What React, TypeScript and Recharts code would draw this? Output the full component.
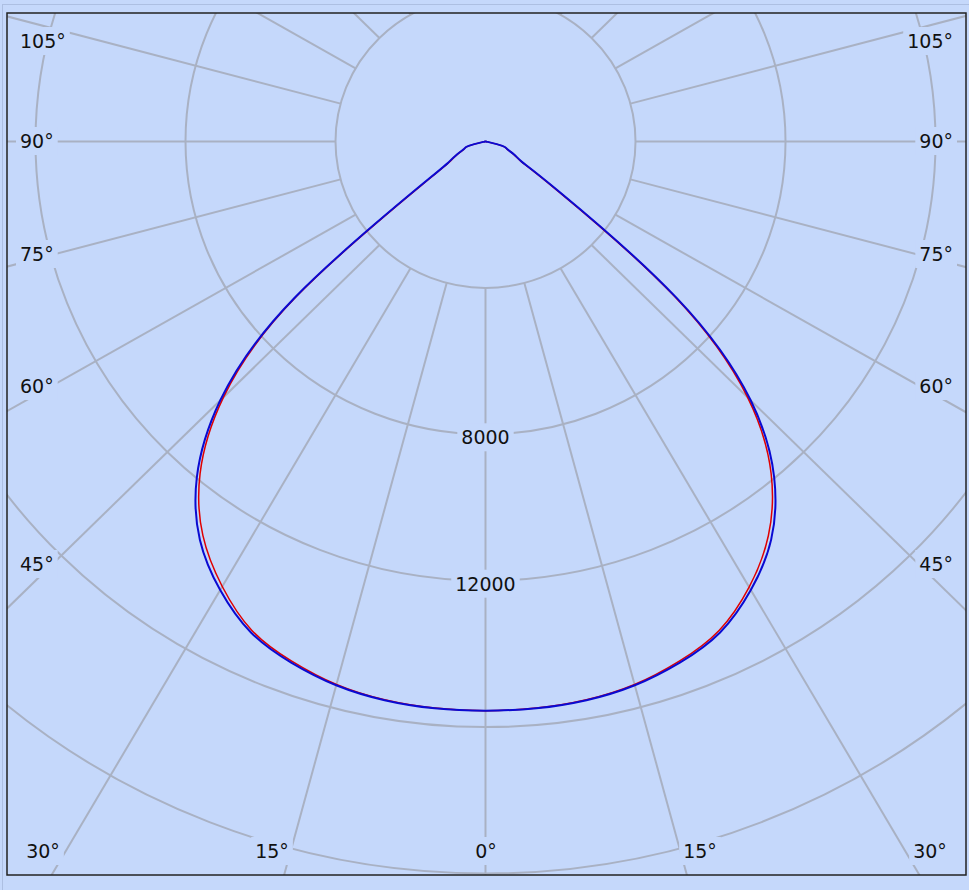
import React from 'react';
import { ScatterChart, Scatter, XAxis, YAxis, ReferenceLine } from 'recharts';

// gamma angle in degrees, 0 = straight down, 90 = horizontal
const gammaAngles = [0, 5, 10, 15, 20, 25, 30, 35, 40, 45, 50, 55, 60, 65, 70, 75, 80, 85, 90];

// luminous intensity (cd) - red: C0 (right half) / C180 (left half)
const c0Values = [15550, 15540, 15490, 15360, 15110, 14740, 14060, 13150, 11850, 9880, 6560, 2350, 1110, 830, 610, 460, 60, 20, 0];
const c180Values = [15550, 15540, 15490, 15360, 15110, 14740, 14040, 13140, 11840, 9880, 6560, 2080, 1100, 830, 610, 460, 60, 20, 0];

// blue: C90 (right half) / C270 (left half)
const c90Values = [15550, 15545, 15500, 15380, 15150, 14800, 14150, 13280, 11975, 10000, 6660, 2450, 1140, 840, 620, 465, 60, 20, 0];
const c270Values = [15550, 15545, 15500, 15380, 15150, 14800, 14150, 13280, 11975, 10000, 6660, 2160, 1140, 840, 620, 465, 60, 20, 0];

// grid
const ringValues = [4000, 8000, 12000, 16000, 20000, 24000];
const ringLabels = [8000, 12000];
const spokeAngles = [-165, -150, -135, -120, -105, -90, -75, -60, -45, -30, -15, 0, 15, 30, 45, 60, 75, 90, 105, 120, 135, 150, 165, 180];
const sideAngleLabels = [105, 90, 75, 60, 45];
const bottomAngleLabels = [30, 15, 0, 15, 30];

const W = 969;
const H = 890;
const BG = '#c5d8fb';
const GRID = '#a9b1c3';
const X_DOMAIN: [number, number] = [-12760, 12813];
const Y_DOMAIN: [number, number] = [-20041, 3511];
const PLOT = { left: 7, top: 13, width: 959, height: 862 };

const px = (x: number) => PLOT.left + ((x - X_DOMAIN[0]) / (X_DOMAIN[1] - X_DOMAIN[0])) * PLOT.width;
const py = (y: number) => PLOT.top + ((Y_DOMAIN[1] - y) / (Y_DOMAIN[1] - Y_DOMAIN[0])) * PLOT.height;

const rad = (d: number) => (d * Math.PI) / 180;

// left half from 90 down to 0, then right half from 0 up to 90
const buildCurve = (left: number[], right: number[]) => {
    const pts: { x: number; y: number }[] = [];
    for (let i = gammaAngles.length - 1; i >= 0; i--) {
        const g = rad(gammaAngles[i]);
        pts.push({ x: -left[i] * Math.sin(g), y: -left[i] * Math.cos(g) });
    }
    for (let i = 1; i < gammaAngles.length; i++) {
        const g = rad(gammaAngles[i]);
        pts.push({ x: right[i] * Math.sin(g), y: -right[i] * Math.cos(g) });
    }
    return pts;
};

const redCurve = buildCurve(c180Values, c0Values);
const blueCurve = buildCurve(c270Values, c90Values);

const NoDot = () => <g />;

const FONT = "'DejaVu Sans', Verdana, sans-serif";
const FS = 19;
const textWidth = (s: string) => s.replace('°', '').length * 12.1 + (s.includes('°') ? 9.5 : 0);

// label positions (pixel centres) taken from the reference layout
const sideLabelY: Record<number, number> = { 105: 41, 90: 141, 75: 254, 60: 386, 45: 564 };
const bottomLabelX = [43, 272, 486, 700, 930];

const MaskedLabel = ({ text, x, cy, anchor }: { text: string; x: number; cy: number; anchor: 'start' | 'middle' | 'end' }) => {
    const w = textWidth(text);
    const left = anchor === 'start' ? x : anchor === 'end' ? x - w : x - w / 2;
    return (
        <g>
            <rect x={left - 4} y={cy - 14} width={w + 8} height={28} fill={BG} />
            <text x={x} y={cy + 7} textAnchor={anchor} fontFamily={FONT} fontSize={FS} fill="#111">
                {text}
            </text>
        </g>
    );
};

const App: React.FC = () => {
    const cx = px(0);
    const cy = py(0);
    return (
        <div style={{ position: 'absolute', left: 0, top: 0, width: W, height: H, background: BG, overflow: 'hidden' }}>
            {/* rings */}
            <svg width={W} height={H} style={{ position: 'absolute', left: 0, top: 0 }}>
                <defs>
                    <clipPath id="plot-clip">
                        <rect x={PLOT.left} y={PLOT.top} width={PLOT.width} height={PLOT.height} />
                    </clipPath>
                </defs>
                <g clipPath="url(#plot-clip)">
                    {ringValues.map(r => (
                        <ellipse key={r} cx={cx} cy={cy} rx={px(r) - cx} ry={cy - py(r)} fill="none" stroke={GRID} strokeWidth={2} />
                    ))}
                </g>
            </svg>

            <div style={{ position: 'absolute', left: 0, top: 0 }}>
                <ScatterChart width={W} height={H} margin={{ top: 13, right: 3, bottom: 15, left: 7 }}>
                    <XAxis type="number" dataKey="x" domain={X_DOMAIN} hide allowDataOverflow height={0} />
                    <YAxis type="number" dataKey="y" domain={Y_DOMAIN} hide allowDataOverflow width={0} />
                    {spokeAngles.map(a => {
                        const t = rad(a);
                        return (
                            <ReferenceLine
                                key={a}
                                segment={[
                                    { x: ringValues[0] * Math.sin(t), y: -ringValues[0] * Math.cos(t) },
                                    { x: 40000 * Math.sin(t), y: -40000 * Math.cos(t) },
                                ]}
                                stroke={GRID}
                                strokeWidth={2}
                                ifOverflow="hidden"
                            />
                        );
                    })}
                    <Scatter
                        data={redCurve}
                        fill="#e00000"
                        line={{ stroke: '#e00000', strokeWidth: 1.5 }}
                        lineJointType="natural"
                        shape={NoDot}
                        isAnimationActive={false}
                    />
                    <Scatter
                        data={blueCurve}
                        fill="#0a0ad2"
                        line={{ stroke: '#0a0ad2', strokeWidth: 2 }}
                        lineJointType="natural"
                        shape={NoDot}
                        isAnimationActive={false}
                    />
                </ScatterChart>
            </div>

            {/* labels and frame */}
            <svg width={W} height={H} style={{ position: 'absolute', left: 0, top: 0, pointerEvents: 'none' }}>
                <rect x={2.5} y={4.5} width={W + 10} height={H + 10} fill="none" stroke="#adbfe2" strokeWidth={1} />
                {ringLabels.map(r => (
                    <MaskedLabel key={r} text={String(r)} x={cx} cy={py(-r) + 3} anchor="middle" />
                ))}
                {sideAngleLabels.map(a => (
                    <React.Fragment key={a}>
                        <MaskedLabel text={`${a}°`} x={20} cy={sideLabelY[a]} anchor="start" />
                        <MaskedLabel text={`${a}°`} x={953} cy={sideLabelY[a]} anchor="end" />
                    </React.Fragment>
                ))}
                {bottomAngleLabels.map((a, i) => (
                    <MaskedLabel key={i} text={`${a}°`} x={bottomLabelX[i]} cy={851} anchor="middle" />
                ))}
                <rect x={PLOT.left} y={PLOT.top} width={PLOT.width} height={PLOT.height} fill="none" stroke="#222" strokeWidth={1.5} />
            </svg>
        </div>
    );
};

export default App;
